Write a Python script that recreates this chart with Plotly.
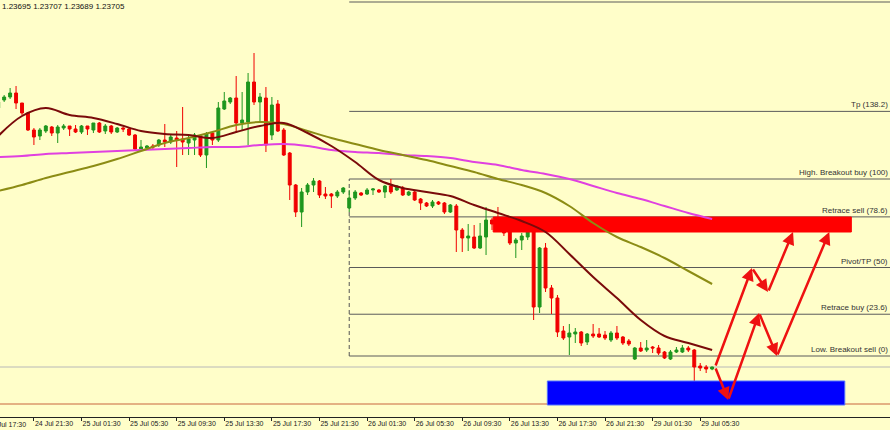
import plotly.graph_objects as go

# GBPUSD M30 bars, index 0 = 24 Jul 19:00 (broker time)
bars = list(range(-1, 120))

opens = [1.25000, 1.25040, 1.25055, 1.25075, 1.25025, 1.24975, 1.24890, 1.24860, 1.24885, 1.24905,
         1.24875, 1.24900, 1.24910, 1.24895, 1.24880, 1.24910, 1.24890, 1.24925, 1.24885, 1.24910,
         1.24880, 1.24900, 1.24895, 1.24865, 1.24795, 1.24800, 1.24810, 1.24815, 1.24840, 1.24830,
         1.24850, 1.24845, 1.24825, 1.24840, 1.24860, 1.24765, 1.24875, 1.24840, 1.24995, 1.25030,
         1.25050, 1.24925, 1.24930, 1.25130, 1.25030, 1.25050, 1.24865, 1.25020, 1.24890, 1.24775,
         1.24615, 1.24480, 1.24580, 1.24615, 1.24635, 1.24570, 1.24570, 1.24560, 1.24580, 1.24500,
         1.24550, 1.24575, 1.24570, 1.24590, 1.24590, 1.24580, 1.24610, 1.24590, 1.24600, 1.24565,
         1.24580, 1.24545, 1.24525, 1.24510, 1.24530, 1.24525, 1.24480, 1.24510, 1.24390, 1.24350,
         1.24355, 1.24300, 1.24355, 1.24440, 1.24430, 1.24400, 1.24380, 1.24325, 1.24340, 1.24355,
         1.24380, 1.24005, 1.24300, 1.24100, 1.24050, 1.23885, 1.23855, 1.23870, 1.23880, 1.23830,
         1.23870, 1.23870, 1.23865, 1.23840, 1.23875, 1.23855, 1.23835, 1.23745, 1.23800, 1.23790,
         1.23805, 1.23800, 1.23780, 1.23745, 1.23780, 1.23780, 1.23800, 1.23790, 1.23710, 1.23705,
         1.23695]
highs = [1.25040, 1.25065, 1.25100, 1.25110, 1.25025, 1.24980, 1.24900, 1.24900, 1.24915, 1.24910,
         1.24915, 1.24920, 1.24910, 1.24915, 1.24915, 1.24910, 1.24925, 1.24930, 1.24920, 1.24915,
         1.24905, 1.24905, 1.24900, 1.24870, 1.24840, 1.24815, 1.24820, 1.24845, 1.24920, 1.24865,
         1.24885, 1.25005, 1.24870, 1.24875, 1.24865, 1.24880, 1.24880, 1.25030, 1.25080, 1.25055,
         1.25160, 1.25080, 1.25175, 1.25275, 1.25075, 1.25105, 1.25055, 1.25040, 1.24900, 1.24780,
         1.24620, 1.24600, 1.24625, 1.24650, 1.24640, 1.24605, 1.24575, 1.24590, 1.24605, 1.24590,
         1.24590, 1.24580, 1.24600, 1.24600, 1.24595, 1.24615, 1.24645, 1.24615, 1.24610, 1.24585,
         1.24585, 1.24550, 1.24530, 1.24540, 1.24535, 1.24530, 1.24520, 1.24520, 1.24400, 1.24420,
         1.24415, 1.24425, 1.24505, 1.24450, 1.24505, 1.24440, 1.24390, 1.24350, 1.24375, 1.24390,
         1.24390, 1.24305, 1.24325, 1.24115, 1.24065, 1.23910, 1.23920, 1.23900, 1.23885, 1.23875,
         1.23920, 1.23900, 1.23885, 1.23885, 1.23910, 1.23860, 1.23845, 1.23805, 1.23830, 1.23840,
         1.23810, 1.23815, 1.23785, 1.23790, 1.23805, 1.23815, 1.23810, 1.23795, 1.23725, 1.23715,
         1.23707]
lows = [1.24990, 1.25030, 1.25045, 1.24995, 1.24965, 1.24885, 1.24815, 1.24840, 1.24875, 1.24860,
        1.24825, 1.24890, 1.24860, 1.24875, 1.24870, 1.24865, 1.24875, 1.24875, 1.24870, 1.24870,
        1.24875, 1.24880, 1.24860, 1.24790, 1.24785, 1.24795, 1.24795, 1.24805, 1.24805, 1.24820,
        1.24705, 1.24765, 1.24765, 1.24765, 1.24755, 1.24700, 1.24815, 1.24830, 1.24990, 1.25020,
        1.24875, 1.24890, 1.24815, 1.25015, 1.24930, 1.24780, 1.24840, 1.24880, 1.24760, 1.24540,
        1.24455, 1.24405, 1.24565, 1.24580, 1.24550, 1.24545, 1.24500, 1.24550, 1.24570, 1.24480,
        1.24540, 1.24560, 1.24565, 1.24565, 1.24575, 1.24550, 1.24570, 1.24585, 1.24560, 1.24560,
        1.24535, 1.24490, 1.24505, 1.24500, 1.24515, 1.24470, 1.24475, 1.24280, 1.24280, 1.24285,
        1.24295, 1.24295, 1.24265, 1.24390, 1.24380, 1.24360, 1.24315, 1.24250, 1.24290, 1.24340,
        1.23940, 1.23975, 1.24080, 1.23970, 1.23855, 1.23840, 1.23765, 1.23825, 1.23810, 1.23815,
        1.23850, 1.23850, 1.23840, 1.23830, 1.23840, 1.23815, 1.23810, 1.23740, 1.23780, 1.23780,
        1.23775, 1.23765, 1.23745, 1.23740, 1.23775, 1.23775, 1.23780, 1.23630, 1.23685, 1.23675,
        1.23689]
closes = [1.25030, 1.25055, 1.25075, 1.25025, 1.24975, 1.24890, 1.24855, 1.24890, 1.24910, 1.24875,
          1.24905, 1.24910, 1.24895, 1.24880, 1.24910, 1.24895, 1.24925, 1.24880, 1.24910, 1.24880,
          1.24900, 1.24895, 1.24865, 1.24795, 1.24805, 1.24810, 1.24805, 1.24840, 1.24830, 1.24855,
          1.24840, 1.24830, 1.24845, 1.24865, 1.24765, 1.24870, 1.24840, 1.25000, 1.25035, 1.25050,
          1.24925, 1.24940, 1.25130, 1.25030, 1.25055, 1.24815, 1.25015, 1.24885, 1.24765, 1.24615,
          1.24480, 1.24580, 1.24615, 1.24635, 1.24565, 1.24560, 1.24560, 1.24580, 1.24600, 1.24550,
          1.24580, 1.24565, 1.24590, 1.24595, 1.24580, 1.24610, 1.24580, 1.24610, 1.24565, 1.24580,
          1.24540, 1.24525, 1.24510, 1.24530, 1.24520, 1.24480, 1.24515, 1.24390, 1.24350, 1.24360,
          1.24300, 1.24360, 1.24440, 1.24420, 1.24400, 1.24375, 1.24325, 1.24340, 1.24360, 1.24380,
          1.24005, 1.24300, 1.24100, 1.24050, 1.23880, 1.23850, 1.23875, 1.23880, 1.23825, 1.23870,
          1.23860, 1.23855, 1.23850, 1.23875, 1.23850, 1.23825, 1.23820, 1.23800, 1.23785, 1.23800,
          1.23800, 1.23775, 1.23750, 1.23780, 1.23790, 1.23800, 1.23790, 1.23705, 1.23700, 1.23695,
          1.23705]

# moving averages
ma_bars = list(range(-1, 120, 4))
ma_fast = [1.24860, 1.24960, 1.25000, 1.24965, 1.24950, 1.24920, 1.24885, 1.24870, 1.24865, 1.24850,
           1.24880, 1.24910, 1.24925, 1.24875, 1.24810, 1.24730, 1.24640, 1.24600, 1.24580, 1.24560,
           1.24515, 1.24475, 1.24435, 1.24380, 1.24270, 1.24155, 1.24050, 1.23940, 1.23860, 1.23825,
           1.23790]
ma_mid = [1.24585, 1.24615, 1.24650, 1.24680, 1.24710, 1.24745, 1.24785, 1.24825, 1.24850, 1.24880,
          1.24915, 1.24930, 1.24920, 1.24885, 1.24850, 1.24820, 1.24790, 1.24765, 1.24740, 1.24710,
          1.24680, 1.24645, 1.24615, 1.24575, 1.24510, 1.24425, 1.24355, 1.24305, 1.24250, 1.24185,
          1.24120]
ma_slow = [1.24755, 1.24760, 1.24770, 1.24775, 1.24780, 1.24785, 1.24790, 1.24795, 1.24800, 1.24805,
           1.24805, 1.24815, 1.24820, 1.24810, 1.24790, 1.24780, 1.24775, 1.24765, 1.24760, 1.24750,
           1.24730, 1.24715, 1.24690, 1.24670, 1.24645, 1.24610, 1.24575, 1.24545, 1.24510, 1.24475,
           1.24445]

tick_bars = [5, 13, 21, 29, 37, 45, 53, 61, 69, 77, 85, 93, 101, 109, 117]
tick_text = ['24 Jul 21:30', '25 Jul 01:30', '25 Jul 05:30', '25 Jul 09:30', '25 Jul 13:30',
             '25 Jul 17:30', '25 Jul 21:30', '26 Jul 01:30', '26 Jul 05:30', '26 Jul 09:30',
             '26 Jul 13:30', '26 Jul 17:30', '26 Jul 21:30', '29 Jul 01:30', '29 Jul 05:30']
first_label = '24 Jul 17:30'  # sits left of the window, only its tail shows

# fibonacci drawn from bar 58
fib_start = 58
fib_low = 1.23760
fib_high = 1.24645
fib_levels = [200, 138.2, 100, 78.6, 50, 23.6, 0, -38.2]
fib_names = ['', 'Tp (138.2)', 'High. Breakout buy (100)', 'Retrace sell (78.6)', 'Pivot/TP (50)',
             'Retrace buy (23.6)', 'Low. Breakout sell (0)', '']

bid = 1.23705
support = 1.23520
sell_zone = [82.2, 142.4, 1.24380, 1.24455]
buy_zone = [91.3, 141.3, 1.23515, 1.23635]

path_a = [(119.5, 1.23705), (125.7, 1.24200), (128.4, 1.24080), (132.6, 1.24380)]
path_b = [(119.5, 1.23705), (121.7, 1.23540), (126.9, 1.23975), (129.9, 1.23760), (138.7, 1.24380)]

x_range = [-0.7, 148.9]
y_range = [1.23455, 1.25540]
bg = '#FFFEC9'
font_fam = 'Liberation Sans Narrow, Liberation Sans, Arial'

fig = go.Figure()

fig.add_trace(go.Candlestick(x=bars, open=opens, high=highs, low=lows, close=closes,
                             increasing=dict(line=dict(color='#1E961E', width=1), fillcolor='#1E961E'),
                             decreasing=dict(line=dict(color='#F00000', width=1), fillcolor='#F00000'),
                             whiskerwidth=0, hoverinfo='skip', showlegend=False))

# zones drawn as traces so the MAs stay on top
for z, col, edge in [(sell_zone, '#FF0000', '#FF0000'), (buy_zone, '#0000FF', '#5070FF')]:
    fig.add_trace(go.Scatter(x=[z[0], z[1], z[1], z[0], z[0]], y=[z[2], z[2], z[3], z[3], z[2]],
                             fill='toself', fillcolor=col, mode='lines', line=dict(color=edge, width=1),
                             hoverinfo='skip', showlegend=False))

for vals, col in [(ma_slow, '#E040E0'), (ma_mid, '#8C8C14'), (ma_fast, '#7A0A0A')]:
    fig.add_trace(go.Scatter(x=ma_bars, y=vals, mode='lines', line=dict(color=col, width=2, shape='spline'),
                             hoverinfo='skip', showlegend=False))

shapes = []
shapes.append(dict(type='line', xref='paper', x0=0, x1=1, y0=bid, y1=bid, layer='below',
                   line=dict(color='#B8B8B8', width=1)))
shapes.append(dict(type='line', xref='paper', x0=0, x1=1, y0=support, y1=support, layer='below',
                   line=dict(color='#C8643C', width=1)))
annotations = []
for lvl, name in zip(fib_levels, fib_names):
    p = fib_low + (fib_high - fib_low) * lvl / 100
    shapes.append(dict(type='line', x0=fib_start, x1=x_range[1], y0=p, y1=p, layer='below',
                       line=dict(color='#5A5A5A', width=1)))
    if name:
        annotations.append(dict(x=1, xref='paper', y=p, yref='y', xanchor='right', yanchor='bottom',
                                text=name, showarrow=False, font=dict(size=8, color='#333333', family=font_fam)))
shapes.append(dict(type='line', x0=fib_start, x1=fib_start, y0=fib_low, y1=fib_high, layer='below',
                   line=dict(color='#555555', width=1, dash='4px,3px')))

for path in [path_a, path_b]:
    for (x0, y0), (x1, y1) in zip(path[:-1], path[1:]):
        annotations.append(dict(x=x1, y=y1, ax=x0, ay=y0, xref='x', yref='y', axref='x', ayref='y',
                                text='', showarrow=True, arrowhead=2, arrowsize=1, arrowwidth=2.5,
                                arrowcolor='#EE1111', standoff=0))

annotations.append(dict(x=0, xref='paper', y=1, yref='paper', xanchor='left', yanchor='top',
                        text='1.23695 1.23707 1.23689 1.23705', showarrow=False,
                        font=dict(size=8, color='#111111', family=font_fam)))
# tick 8 bars before the first labelled one, outside the range so draw it by hand
span = x_range[1] - x_range[0]
annotations.append(dict(x=(tick_bars[0] - 8 - x_range[0]) / span, xref='paper', y=0, yref='paper',
                        xanchor='left', yanchor='top', yshift=-2, text=first_label, showarrow=False,
                        font=dict(size=7, color='#222222', family=font_fam)))

fig.update_layout(width=890, height=430, margin=dict(l=0, r=0, t=0, b=13),
                  paper_bgcolor=bg, plot_bgcolor=bg, shapes=shapes, annotations=annotations,
                  showlegend=False)
fig.update_xaxes(range=x_range, rangeslider_visible=False, showgrid=False, zeroline=False,
                 showline=True, linecolor='#222222', linewidth=1, ticks='outside', ticklen=3,
                 tickcolor='#222222', tickvals=tick_bars, ticktext=tick_text,
                 ticklabelposition='outside right', tickfont=dict(size=7, color='#222222', family=font_fam))
fig.update_yaxes(range=y_range, visible=False, showgrid=False, zeroline=False)

# page has a default 8px body margin, drop it so the chart sits at 0,0
fig.write_html("out.html", config={'displayModeBar': False},
               post_script="document.body.style.margin='0';")
